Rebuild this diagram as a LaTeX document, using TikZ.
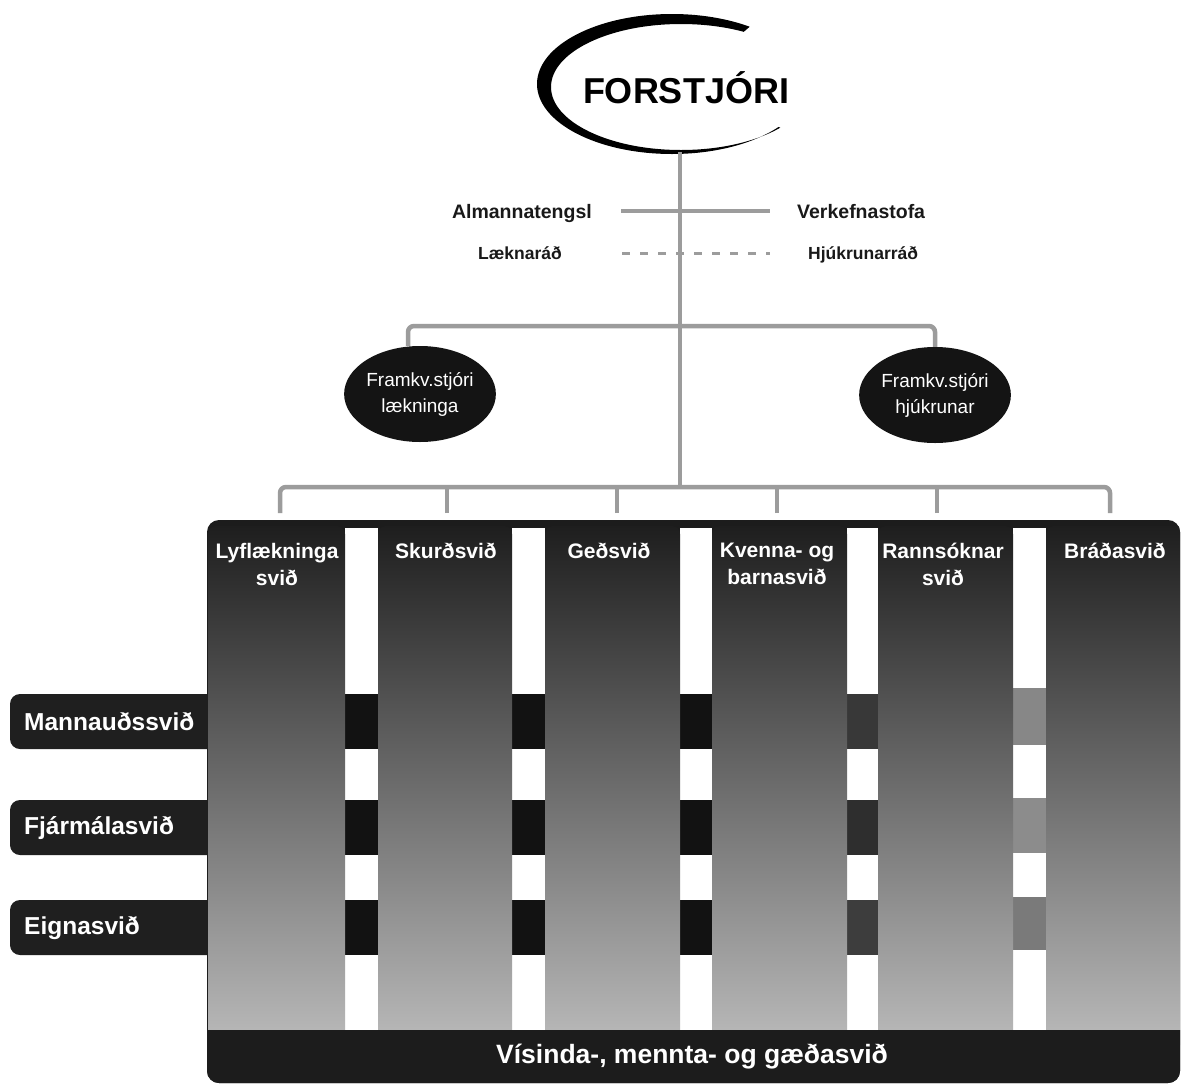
\documentclass[tikz,border=0pt]{standalone}
\usepackage{fontspec}
\setmainfont{Liberation Sans}
\usetikzlibrary{shapes.geometric,calc}
\definecolor{linegray}{HTML}{9C9C9C}
\definecolor{darkbox}{HTML}{1C1C1C}
\definecolor{coltop}{HTML}{1E1E1E}
\definecolor{colmid}{HTML}{5E5E5E}
\definecolor{colbot}{HTML}{BABABA}
\definecolor{bandA}{HTML}{121212}
\begin{document}
\begin{tikzpicture}[x=1pt,y=-1pt,
  conn/.style={draw=linegray,line width=4.5pt,rounded corners=6pt},
  sideline/.style={draw=linegray,line width=3.5pt},
  dashline/.style={draw=linegray,line width=3pt,dash pattern=on 8pt off 10pt},
  boss/.style={font=\bfseries\fontsize{36}{40}\selectfont,inner sep=0pt},
  side/.style={font=\bfseries\fontsize{19.5}{22}\selectfont,inner sep=0pt,text=black!90},
  side2/.style={font=\bfseries\fontsize{17.5}{20}\selectfont,inner sep=0pt,text=black!90},
  oval/.style={ellipse,fill=black!92,minimum width=142pt,minimum height=96pt,inner sep=0pt,
    text=white,align=center,font=\fontsize{19}{26}\selectfont},
  coltext/.style={text=white,font=\bfseries\fontsize{21}{27}\selectfont,align=center,inner sep=0pt,anchor=north},
  lab/.style={text=white,font=\bfseries\fontsize{24.5}{27}\selectfont,inner sep=0pt,anchor=west},
  bar/.style={text=white,font=\bfseries\fontsize{26.5}{29}\selectfont,inner sep=0pt},
  colshade/.style={top color=coltop,middle color=colmid,bottom color=colbot,rounded corners=8pt}
]
\useasboundingbox (0,0) rectangle (1183,1090);
\fill[white] (0,0) rectangle (1183,1090);

% ---- FORSTJORI swoosh ----
\begin{scope}
  \clip (680,86) -- (800,-16) -- (480,-16) -- (480,200) -- (930,190) -- cycle;
  \fill[black,even odd rule] (672,84) ellipse[x radius=135,y radius=70]
                             (681,87) ellipse[x radius=130,y radius=63];
\end{scope}
\node[boss] (boss) at (686,88) {FORSTJÓRI};
\coordinate (ellbot) at (680,152);
\coordinate (ub) at (680,326);
\coordinate (lb) at (680,487);

% ---- staff units ----
\node[side,anchor=base east] (alm) at (592,218) {Almannatengsl};
\node[side,anchor=base west] (verk) at (797,218) {Verkefnastofa};
\node[side2,anchor=base east] (lak) at (562,259) {Læknaráð};
\node[side2,anchor=base west] (hju) at (808,259) {Hjúkrunarráð};

% ---- trunk & buses ----
\draw[conn] (ellbot) -- (lb);
\draw[sideline,shorten <=29pt,shorten >=27pt] ([yshift=7pt]alm.base east) -- ([yshift=7pt]verk.base west);
\draw[dashline,shorten <=60pt,shorten >=38pt] ([yshift=6pt]lak.base east) -- ([yshift=6pt]hju.base west);

\node[oval] (o1) at (420,394) {Framkv.stjóri\\lækninga};
\node[oval] (o2) at (935,395) {Framkv.stjóri\\hjúkrunar};
\draw[conn] ([xshift=-12pt]o1.north) |- (ub) -| (o2.north);

\coordinate (t1) at (280,513);
\coordinate (t2) at (447,513);
\coordinate (t3) at (617,513);
\coordinate (t4) at (777,513);
\coordinate (t5) at (937,513);
\coordinate (t6) at (1110,513);
\draw[conn] (t1) |- (lb) -| (t6);
\foreach \i in {2,...,5} \draw[conn] (t\i) -- (t\i |- lb);

% ---- container ----
\fill[darkbox] (207,520) [rounded corners=12pt] rectangle (1180,1083);

% ---- support unit bars (left labels) ----
\fill[black!88,rounded corners=10pt] (10,694) rectangle (260,749);
\fill[black!88,rounded corners=10pt] (10,800) rectangle (260,855);
\fill[black!88,rounded corners=10pt] (10,900) rectangle (260,955);

\begin{scope}
  \clip[rounded corners=12pt] (207,520) rectangle (1180,1083);
  % white gaps
  \foreach \a/\b in {345/378,512/545,680/712,847/878,1013/1046}
    \fill[white] (\a,528) rectangle (\b,1030);
  % band segments in gaps
  \foreach \a/\b in {345/378,512/545,680/712}{
    \fill[bandA] (\a,694) rectangle (\b,749);
    \fill[bandA] (\a,800) rectangle (\b,855);
    \fill[bandA] (\a,900) rectangle (\b,955);
  }
  \fill[black!78] (847,694) rectangle (878,749);
  \fill[black!82] (847,800) rectangle (878,855);
  \fill[black!76] (847,900) rectangle (878,955);
  \fill[black!47] (1013,688) rectangle (1046,745);
  \fill[black!45] (1013,798) rectangle (1046,853);
  \fill[black!52] (1013,897) rectangle (1046,950);
  % columns
  \foreach \a/\b in {208/345,378/512,545/680,712/847,878/1013,1046/1195}
    \shade[colshade] (\a,526) rectangle (\b,1045);
  % bottom bar
  \fill[darkbox] (200,1030) rectangle (1190,1090);
\end{scope}

% ---- texts ----
\node[coltext] (c1) at (277,543) {Lyflækninga\\svið};
\node[coltext] (c2) at (446,543) {Skurðsvið};
\node[coltext] (c3) at (609,543) {Geðsvið};
\node[coltext] (c4) at (777,543) {Kvenna- og\\barnasvið};
\node[coltext] (c5) at (943,543) {Rannsóknar\\svið};
\node[coltext] (c6) at (1115,543) {Bráðasvið};

\node[lab] (man) at (24,722) {Mannauðssvið};
\node[lab] (fja) at (24,828) {Fjármálasvið};
\node[lab] (eig) at (24,928) {Eignasvið};

\node[bar] (vis) at (692,1057) {Vísinda-, mennta- og gæðasvið};
\end{tikzpicture}
\end{document}
